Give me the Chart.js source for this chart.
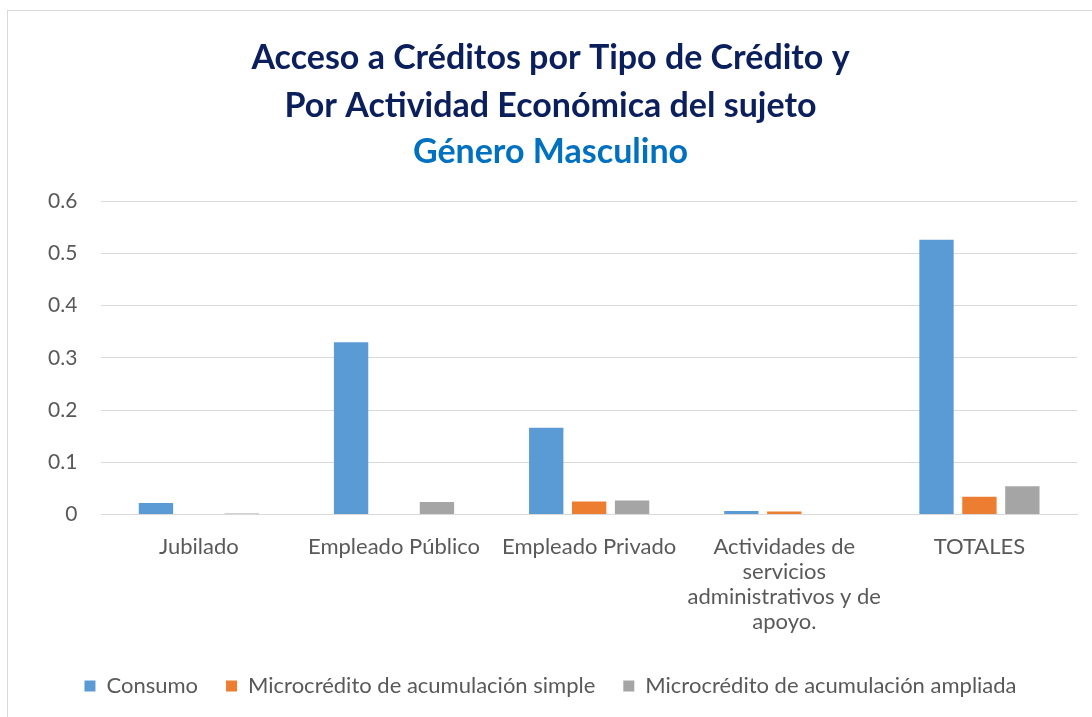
<!DOCTYPE html>
<html>
<head>
<meta charset="utf-8">
<script src="https://cdn.jsdelivr.net/npm/chart.js@4"></script>
<style>
  html, body { margin: 0; padding: 0; background: #fff; }
  #wrap { position: relative; width: 1092px; height: 717px; overflow: hidden; }
  #frame { position: absolute; left: 7px; top: 10px; width: 1200px; height: 800px; border: 1px solid #d9d9d9; }
  #chart { position: absolute; left: 0; top: 0; }
</style>
</head>
<body>
<div id="wrap">
  <div id="frame"></div>
  <canvas id="chart" width="1092" height="717"></canvas>
</div>
<script>
// categorias y valores
var categorias = ["Jubilado", "Empleado Público", "Empleado Privado",
  ["Actividades de", "servicios", "administrativos y de", "apoyo."], "TOTALES"];
var consumo  = [0.022, 0.33, 0.166, 0.007, 0.526];
var simple   = [0, 0.001, 0.025, 0.006, 0.034];
var ampliada = [0.002, 0.024, 0.027, 0, 0.054];
var yTicks   = [0, 0.1, 0.2, 0.3, 0.4, 0.5, 0.6];

var FONT = "Lato, 'Open Sans', sans-serif";
var GRIS = "#d9d9d9";
var TEXTO = "#595959";

function serie(label, data, color) {
  return {
    label: label, data: data, backgroundColor: color,
    categoryPercentage: 0.66, barPercentage: 0.8
  };
}

new Chart(document.getElementById("chart"), {
  type: "bar",
  data: {
    labels: categorias,
    datasets: [
      serie("Consumo", consumo, "#5b9bd5"),
      serie("Microcrédito de acumulación simple", simple, "#ed7d31"),
      serie("Microcrédito de acumulación ampliada", ampliada, "#a5a5a5")
    ]
  },
  options: {
    responsive: false, animation: false,
    layout: { padding: { left: 24, right: 15, bottom: 10 } },
    plugins: {
      title: {
        display: true,
        text: ["Acceso a Créditos por Tipo de Crédito y", "Por Actividad Económica del sujeto"],
        color: "#0b1f5c",
        font: { family: FONT, size: 34, weight: "bold", lineHeight: 1.41 },
        padding: { top: 34, bottom: 0 }
      },
      subtitle: {
        display: true,
        text: "Género Masculino",
        color: "#0070c0",
        font: { family: FONT, size: 34, weight: "bold", lineHeight: 1.3 },
        padding: { top: 0, bottom: 27 }
      },
      legend: {
        position: "bottom",
        labels: {
          boxWidth: 11, boxHeight: 11, padding: 28,
          color: TEXTO,
          font: { family: FONT, size: 22 }
        }
      },
      tooltip: { enabled: false }
    },
    scales: {
      x: {
        grid: { display: false },
        border: { color: GRIS, width: 1 },
        afterFit: function(axis) { axis.height += 1; },
        ticks: {
          color: TEXTO, maxRotation: 0, autoSkip: false, padding: 12,
          font: { family: FONT, size: 22, lineHeight: 1.13 }
        }
      },
      y: {
        min: 0, max: 0.6,
        afterBuildTicks: function(axis) {
          axis.ticks = yTicks.map(function(v) { return { value: v }; });
        },
        grid: { color: GRIS, drawTicks: false },
        border: { display: false },
        ticks: {
          color: TEXTO, padding: 24,
          font: { family: FONT, size: 21 },
          callback: function(v) { return v === 0 ? "0" : v.toFixed(1); }
        }
      }
    }
  }
});
</script>
</body>
</html>
